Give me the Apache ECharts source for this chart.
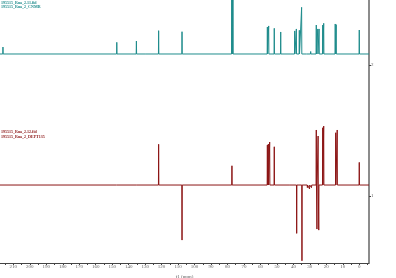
<!DOCTYPE html>
<html>
<head>
<meta charset="utf-8">
<script src="https://cdn.jsdelivr.net/npm/echarts@6/dist/echarts.min.js"></script>
<style>html,body{margin:0;padding:0;background:#fff}#c{width:396px;height:278px}</style>
</head>
<body>
<div id="c"></div>
<script>
// ---- data (chemical shift in ppm, intensity in axis units) ----
const cnmrShift = [216.3, 147.2, 135.3, 129.9, 121.8, 107.6, 77.4, 77.0, 76.7, 55.8, 55.0, 51.6, 47.7, 41.9, 39.2, 38.2, 36.4, 35.0, 31.9, 29.5, 28.2, 26.1, 25.2, 24.4, 22.2, 21.6, 14.6, 14.0, 0.0];
const cnmrInt   = [0.053, 0.089, 0.099, 0.011, 0.178, 0.170, 0.55, 0.60, 0.55, 0.206, 0.214, 0.196, 0.168, 0.008, 0.176, 0.191, 0.181, 0.356, 0.008, 0.019, 0.008, 0.221, 0.191, 0.191, 0.221, 0.234, 0.229, 0.224, 0.183];
const deptShift = [147.2, 135.3, 121.8, 107.6, 77.3, 55.8, 55.2, 54.4, 51.6, 42.0, 38.0, 34.8, 31.5, 30.2, 29.0, 28.0, 26.1, 25.7, 25.0, 24.6, 22.2, 21.6, 14.3, 13.4, 0.0];
const deptInt   = [0.008, 0.011, 0.311, -0.420, 0.147, 0.305, 0.313, 0.328, 0.292, -0.008, -0.369, -0.578, -0.02, -0.03, -0.02, -0.015, 0.420, -0.336, 0.374, -0.344, 0.437, 0.450, 0.399, 0.420, 0.173];
const cnmrOffset = 2.084;
const deptOffset = 1.084;
const xTickLabels = [0,10,20,30,40,50,60,70,80,90,100,110,120,130,140,150,160,170,180,190,200,210];
const xMinorTicks = [-5,0,5,10,15,20,25,30,35,40,45,50,55,60,65,70,75,80,85,90,95,100,105,110,115,120,125,130,135,140,145,150,155,160,165,170,175,180,185,190,195,200,205,210,215];
const yTickLabels = [1, 2];
const cnmrNames = ['195515_Rua_2.11.fid', '195515_Rua_2_CNMR'];
const deptNames = ['195515_Rua_2.12.fid', '195515_Rua_2_DEPT135'];

const X_MIN = -5.9, X_MAX = 218.1;
const HALF = 0.12;

function buildSpectrum(shifts, ints, offset) {
  const idx = shifts.map((s, i) => i).sort((a, b) => shifts[b] - shifts[a]);
  const pts = [[X_MAX, offset]];
  idx.forEach(i => {
    pts.push([shifts[i] + HALF, offset]);
    pts.push([shifts[i], offset + ints[i]]);
    pts.push([shifts[i] - HALF, offset]);
  });
  pts.push([X_MIN, offset]);
  return pts;
}

const teal = '#1f8c8c';
const red = '#8c1515';
const chart = echarts.init(document.getElementById('c'), null, {renderer: 'canvas'});
const tStyle = (c) => ({fontSize: 4, fontFamily: 'Liberation Serif', color: c, lineHeight: 4.6});
chart.setOption({
  animation: false,
  backgroundColor: '#fff',
  title: [
    {text: cnmrNames.join('\n'), left: 1, top: 0.5, textStyle: tStyle(teal), padding: 0},
    {text: deptNames.join('\n'), left: 1, top: 130, textStyle: tStyle(red), padding: 0}
  ],
  grid: {left: 0, right: 27, top: 0, bottom: 15, containLabel: false, outerBoundsMode: 'none'},
  xAxis: {
    type: 'value', inverse: true, min: X_MIN, max: X_MAX,
    name: 'f1 (ppm)', nameLocation: 'middle', nameGap: 9.5,
    nameTextStyle: {fontSize: 5, fontFamily: 'Liberation Serif', color: '#666'},
    axisLine: {show: true, onZero: false, lineStyle: {color: '#444', width: 1}},
    axisTick: {show: true, length: 2, customValues: xMinorTicks, lineStyle: {color: '#444', width: 1}},
    axisLabel: {show: true, customValues: xTickLabels, fontSize: 5, fontFamily: 'Liberation Serif', color: '#666', margin: 1.5},
    splitLine: {show: false}
  },
  yAxis: {
    type: 'value', position: 'right', min: 0.489, max: 2.496,
    axisLine: {show: true, onZero: false, lineStyle: {color: '#666', width: 1.5}},
    axisTick: {show: true, length: 2, customValues: yTickLabels, lineStyle: {color: '#444', width: 1}},
    axisLabel: {show: true, customValues: yTickLabels, fontSize: 5, fontFamily: 'Liberation Serif', color: '#666', margin: 2},
    splitLine: {show: false}
  },
  series: [
    {type: 'line', data: buildSpectrum(cnmrShift, cnmrInt, cnmrOffset), showSymbol: false, clip: true,
     lineStyle: {color: teal, width: 1}, itemStyle: {color: teal}},
    {type: 'line', data: buildSpectrum(deptShift, deptInt, deptOffset), showSymbol: false, clip: true,
     lineStyle: {color: red, width: 1}, itemStyle: {color: red}}
  ]
});
</script>
</body>
</html>
